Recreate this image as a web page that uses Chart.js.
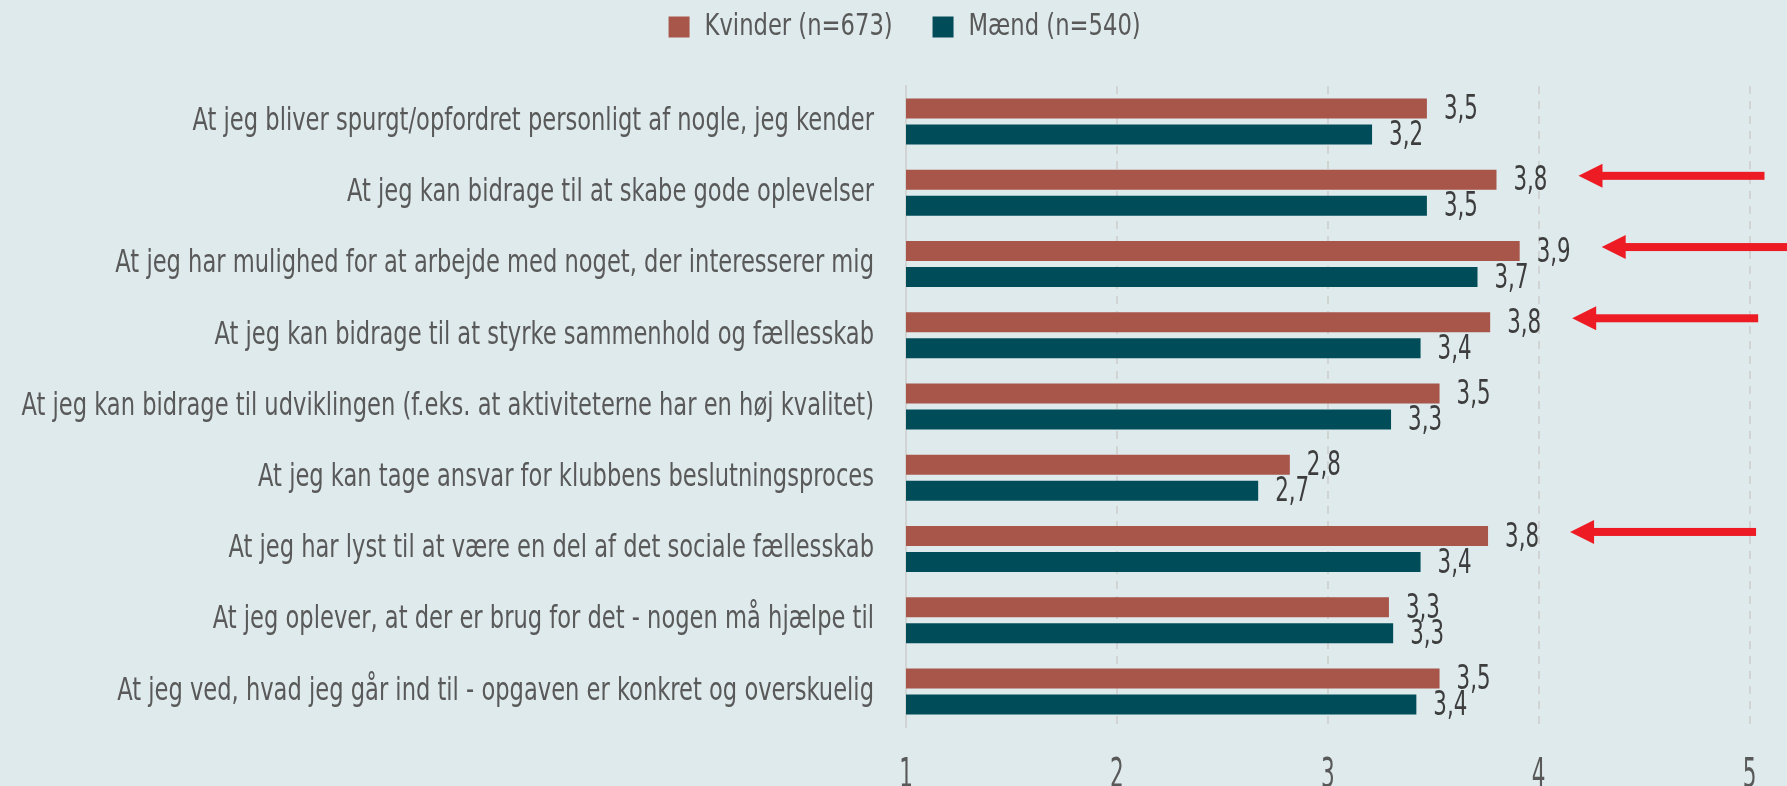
<!DOCTYPE html>
<html>
<head>
<meta charset="utf-8">
<script src="https://cdn.jsdelivr.net/npm/chart.js@4"></script>
<style>
  html, body { margin: 0; padding: 0; background: #dfeaec; overflow: hidden; }
</style>
</head>
<body>
<canvas id="barChart" width="1787" height="786"></canvas>
<script>
const categories = [
  "At jeg bliver spurgt/opfordret personligt af nogle, jeg kender",
  "At jeg kan bidrage til at skabe gode oplevelser",
  "At jeg har mulighed for at arbejde med noget, der interesserer mig",
  "At jeg kan bidrage til at styrke sammenhold og fællesskab",
  "At jeg kan bidrage til udviklingen (f.eks. at aktiviteterne har en høj kvalitet)",
  "At jeg kan tage ansvar for klubbens beslutningsproces",
  "At jeg har lyst til at være en del af det sociale fællesskab",
  "At jeg oplever, at der er brug for det - nogen må hjælpe til",
  "At jeg ved, hvad jeg går ind til - opgaven er konkret og overskuelig"
];
const kvinder = [3.47, 3.80, 3.91, 3.77, 3.53, 2.82, 3.76, 3.29, 3.53];
const maend = [3.21, 3.47, 3.71, 3.44, 3.30, 2.67, 3.44, 3.31, 3.42];
const seriesNames = ["Kvinder (n=673)", "Mænd (n=540)"];
const xTicks = [1, 2, 3, 4, 5];
const arrowRows = [1, 2, 3, 6];

const FONT = "'DejaVu Sans Condensed', 'DejaVu Sans', sans-serif";

// the original uses a condensed typeface; squeeze text horizontally around its anchor
function condensed(ctx, s, draw) {
  ctx.fillText = function (text, x, y) {
    this.save();
    this.translate(x, y);
    this.scale(s, 1);
    CanvasRenderingContext2D.prototype.fillText.call(this, text, 0, 0);
    this.restore();
  };
  draw();
  delete ctx.fillText;
}

const narrowText = {
  id: "narrowText",
  afterUpdate(chart) {
    if (chart._narrow) return;
    chart._narrow = true;
    const { x, y } = chart.scales;
    const yDraw = y.drawLabels;
    y.drawLabels = function (area) {
      condensed(this.ctx, 0.785, () => yDraw.call(this, area));
    };
    const xDraw = x.drawLabels;
    x.drawLabels = function (area) {
      condensed(this.ctx, 0.6, () => xDraw.call(this, area));
    };
    const legend = chart.legend;
    const lDraw = legend.draw;
    legend.draw = function (area) {
      this.ctx.save();
      this.ctx.translate(45, 0);
      condensed(this.ctx, 0.84, () => lDraw.call(this, area));
      this.ctx.restore();
    };
  },
};

// value labels next to each bar, comma decimal
const valueLabels = {
  id: "valueLabels",
  afterDatasetsDraw(chart) {
    const ctx = chart.ctx;
    ctx.save();
    ctx.font = "33px " + FONT;
    ctx.fillStyle = "#3d3d3d";
    ctx.textAlign = "left";
    ctx.textBaseline = "middle";
    condensed(ctx, 0.72, () => {
      chart.data.datasets.forEach((ds, i) => {
        chart.getDatasetMeta(i).data.forEach((bar, j) => {
          ctx.fillText(ds.data[j].toFixed(1).replace(".", ","), bar.x + 17, bar.y + 2);
        });
      });
    });
    ctx.restore();
  },
};

// red arrows pointing at the highlighted Kvinder bars
const arrows = {
  id: "arrows",
  afterDraw(chart) {
    const ctx = chart.ctx;
    const bars = chart.getDatasetMeta(0).data;
    ctx.save();
    ctx.fillStyle = "#ed1c24";
    arrowRows.forEach((row) => {
      const bar = bars[row];
      const tip = bar.x + 82;
      const tail = tip + 186;
      const y = bar.y - 4;
      ctx.fillRect(tip + 20, y - 4, tail - tip - 20, 8);
      ctx.beginPath();
      ctx.moveTo(tip, y);
      ctx.lineTo(tip + 24, y - 12);
      ctx.lineTo(tip + 24, y + 12);
      ctx.closePath();
      ctx.fill();
    });
    ctx.restore();
  },
};

const ctx = document.getElementById("barChart").getContext("2d");

const barChart = new Chart(ctx, {
  type: "bar",
  data: {
    labels: categories,
    datasets: [
      {
        label: seriesNames[0],
        data: kvinder,
        backgroundColor: "#a8554a",
        barPercentage: 0.77,
        categoryPercentage: 0.73,
      },
      {
        label: seriesNames[1],
        data: maend,
        backgroundColor: "#004c59",
        barPercentage: 0.77,
        categoryPercentage: 0.73,
      },
    ],
  },
  options: {
    indexAxis: "y",
    responsive: false,
    animation: false,
    layout: {
      padding: { top: 8, right: 35, left: 0, bottom: 0 },
    },
    scales: {
      x: {
        min: 1,
        max: 5,
        afterBuildTicks: (scale) => {
          scale.ticks = xTicks.map((v) => ({ value: v }));
        },
        afterFit: (scale) => {
          scale.height = 59;
        },
        ticks: {
          color: "#595959",
          font: { family: FONT, size: 40 },
          padding: 26,
        },
        grid: {
          color: "#d2d4d4",
          lineWidth: 2,
          drawTicks: false,
        },
        border: { display: false, dash: [8, 7] },
      },
      y: {
        afterFit: (scale) => {
          scale.width = 906;
        },
        ticks: {
          color: "#595959",
          font: { family: FONT, size: 32 },
          padding: 32,
        },
        grid: { display: false, drawTicks: false },
        border: { display: true, color: "#d2d4d4", width: 2 },
      },
    },
    plugins: {
      legend: {
        position: "top",
        labels: {
          boxWidth: 21,
          boxHeight: 21,
          padding: 4,
          color: "#595959",
          font: { family: FONT, size: 30 },
        },
      },
      title: {
        display: true,
        text: " ",
        weight: 500,
        font: { size: 10, lineHeight: 1 },
        padding: { top: 0, bottom: 24 },
      },
      tooltip: { enabled: false },
    },
  },
  plugins: [narrowText, valueLabels, arrows],
});
</script>
</body>
</html>
